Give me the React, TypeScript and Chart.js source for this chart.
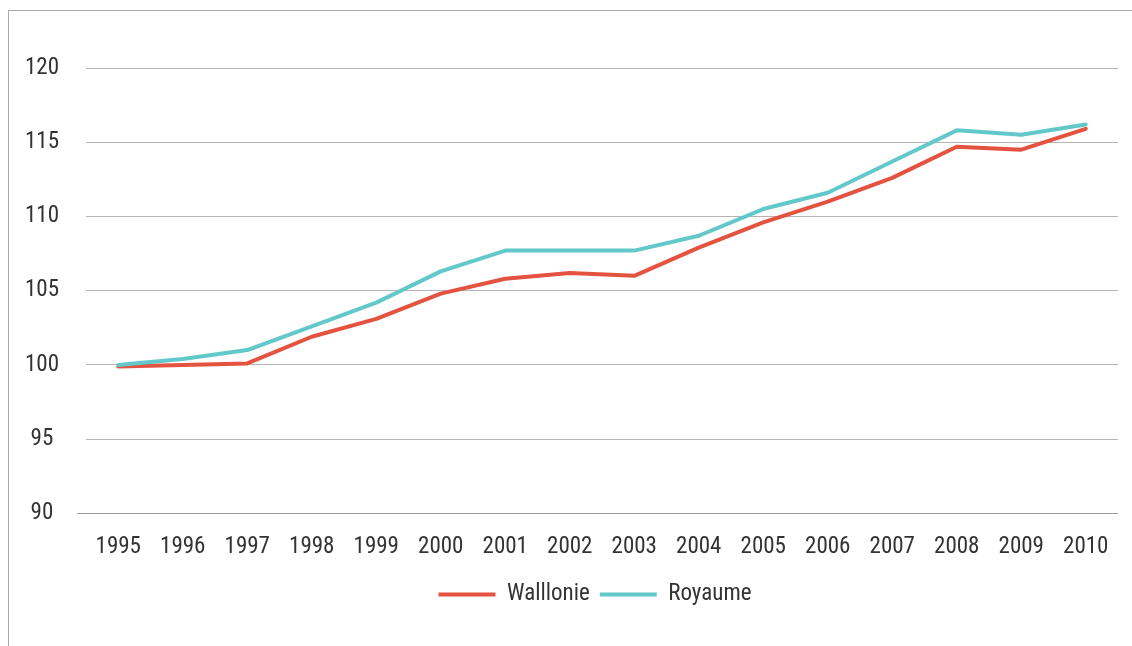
import React, { useEffect, useRef } from "react";
import { Chart, registerables } from "chart.js";

Chart.register(...registerables);

const years = ["1995", "1996", "1997", "1998", "1999", "2000", "2001", "2002", "2003", "2004", "2005", "2006", "2007", "2008", "2009", "2010"];
const wallonie = [99.9, 100.0, 100.1, 101.9, 103.1, 104.8, 105.8, 106.2, 106.0, 107.9, 109.6, 111.0, 112.6, 114.7, 114.5, 115.9];
const royaume = [100.0, 100.4, 101.0, 102.6, 104.2, 106.3, 107.7, 107.7, 107.7, 108.7, 110.5, 111.6, 113.7, 115.8, 115.5, 116.2];
const seriesNames = ["Walllonie", "Royaume"];
const seriesColors = ["#E4533F", "#63C8C9"];
const yMin = 90;
const yMax = 120;
const yStep = 5;

// font-stretch keyword passed through the weight slot (Chart.js validates only "style")
const FONT = { family: "Roboto, 'Noto Sans', sans-serif", size: 23, weight: "condensed" as any };

const legendShift = {
  id: "legendShift",
  afterUpdate(chart: any) {
    const lg = chart.legend;
    if (lg) {
      lg.left += 36;
      lg.right += 36;
      if (lg.adjustHitBoxes) lg.adjustHitBoxes();
    }
  },
};

export default function App() {
  const ref = useRef<HTMLCanvasElement | null>(null);

  useEffect(() => {
    if (!ref.current) return;
    const chart = new Chart(ref.current, {
      type: "line",
      data: {
        labels: years,
        datasets: [
          {
            label: seriesNames[0],
            data: wallonie,
            borderColor: seriesColors[0],
            backgroundColor: seriesColors[0],
            borderWidth: 4,
            pointRadius: 0,
            tension: 0,
            borderJoinStyle: "round",
            borderCapStyle: "round",
            order: 1,
          },
          {
            label: seriesNames[1],
            data: royaume,
            borderColor: seriesColors[1],
            backgroundColor: seriesColors[1],
            borderWidth: 4,
            pointRadius: 0,
            tension: 0,
            borderJoinStyle: "round",
            borderCapStyle: "round",
            order: 0,
          },
        ],
      },
      options: {
        responsive: false,
        animation: false,
        maintainAspectRatio: false,
        layout: { padding: { top: 68, right: 14, bottom: 30, left: 0 } },
        plugins: {
          tooltip: { enabled: false },
          legend: {
            position: "bottom",
            labels: {
              usePointStyle: true,
              pointStyle: "line",
              pointStyleWidth: 57,
              boxHeight: 4,
              padding: 10,
              color: "#333333",
              font: FONT,
              sort: (a: any, b: any) => a.datasetIndex - b.datasetIndex,
            },
          },
        },
        scales: {
          x: {
            offset: true,
            grid: { display: false, drawTicks: false },
            border: { display: false },
            ticks: {
              color: "#333333",
              font: FONT,
              padding: 20,
              maxRotation: 0,
              autoSkip: false,
            },
            afterFit: (scale: any) => {
              scale.height -= 8;
            },
          },
          y: {
            min: yMin,
            max: yMax,
            grid: {
              color: (ctx: any) => (ctx.tick && ctx.tick.value === yMin ? "#9a9a9a" : "#b4b4b4"),
              tickColor: (ctx: any) => (ctx.tick && ctx.tick.value === yMin ? "#9a9a9a" : "rgba(0,0,0,0)"),
              tickLength: 9,
              lineWidth: 1,
            },
            border: { display: false },
            ticks: {
              stepSize: yStep,
              crossAlign: "center",
              padding: 18,
              color: "#333333",
              font: FONT,
            },
            afterFit: (scale: any) => {
              scale.width = 86;
            },
          },
        },
      },
      plugins: [legendShift],
    });
    return () => chart.destroy();
  }, []);

  return (
    <div style={{ position: "fixed", left: 0, top: 0, width: 1132, height: 646, background: "#ffffff", overflow: "hidden" }}>
      <div
        style={{
          position: "absolute",
          left: 8,
          top: 10,
          width: 1140,
          height: 660,
          borderLeft: "1px solid #a8a8a8",
          borderTop: "1px solid #a8a8a8",
        }}
      />
      <canvas ref={ref} width={1132} height={646} style={{ position: "absolute", left: 0, top: 0, width: 1132, height: 646 }} />
    </div>
  );
}
